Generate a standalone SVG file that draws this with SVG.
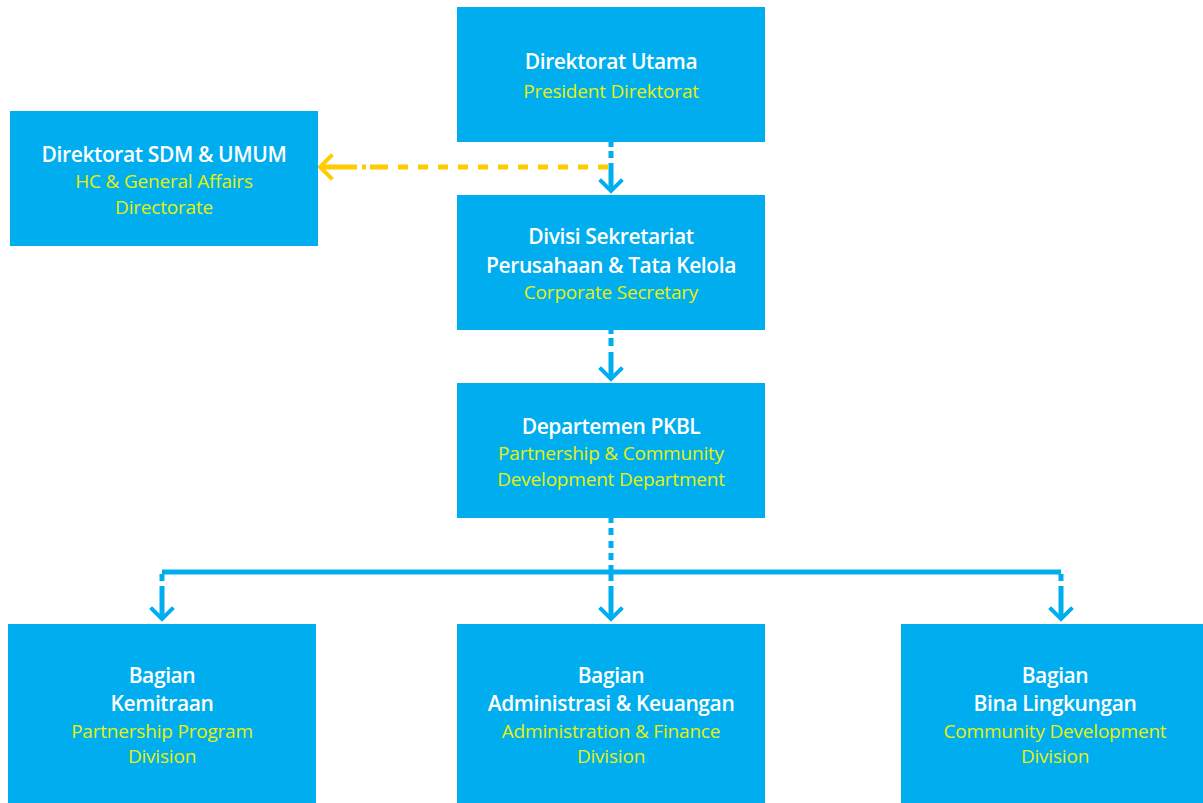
<svg xmlns="http://www.w3.org/2000/svg" width="1203" height="803" viewBox="0 0 1203 803">
  <defs>
    <style>
      .box { fill: #00AEEF; }
      .t { font-family: "Open Sans", "Noto Sans", sans-serif; text-anchor: middle; }
      .h { fill: #FFFFFF; font-size: 21px; font-weight: 600; letter-spacing: -0.4px; }
      .s { fill: #E6F00A; font-size: 19px; letter-spacing: -0.2px; }
      .blue { stroke: #00AEEF; stroke-width: 5; fill: none; }
      .gold { stroke: #FFCC00; stroke-width: 5; fill: none; }
      .head { stroke-width: 4; stroke-linecap: square; stroke-linejoin: miter; }
    </style>
  </defs>
  <rect width="1203" height="803" fill="#FFFFFF"/>

  <!-- connectors -->
  <g id="connectors">
    <!-- Direktorat Utama -> Sekretariat -->
    <path class="blue" d="M611 142 V147 M611 151 V158 M611 163 V190"/>
    <path class="blue head" d="M601 181 L611 191 L621 181"/>
    <!-- dotted line to SDM & Umum -->
    <path class="gold" d="M608 167 H398" stroke-dasharray="10 10"/>
    <path class="gold" d="M388 167 H370 M366 167 H362 M357 167 H322"/>
    <path class="gold head" d="M331 156 L320 167 L331 178"/>
    <!-- Sekretariat -> PKBL -->
    <path class="blue" d="M611 330 V334 M611 338 V346 M611 352 V379"/>
    <path class="blue head" d="M601 369 L611 379 L621 369"/>
    <!-- PKBL -> branch bus -->
    <path class="blue" d="M611 518 V523 M611 528 V535 M611 541 V548 M611 553 V560 M611 565 V570"/>
    <path class="blue" d="M162 572 H1061"/>
    <!-- drops to the three divisions -->
    <path class="blue" d="M162 574 V581 M162 586 V619"/>
    <path class="blue head" d="M152 609 L162 619 L172 609"/>
    <path class="blue" d="M611 574 V581 M611 586 V619"/>
    <path class="blue head" d="M601 609 L611 619 L621 609"/>
    <path class="blue" d="M1061 574 V581 M1061 586 V619"/>
    <path class="blue head" d="M1051 609 L1061 619 L1071 609"/>
  </g>

  <g id="direktorat-utama">
    <rect class="box" x="457" y="7" width="308" height="135"/>
    <text class="t h" x="611" y="69">Direktorat Utama</text>
    <text class="t s" x="611" y="98">President Direktorat</text>
  </g>

  <g id="direktorat-sdm">
    <rect class="box" x="10" y="111" width="308" height="135"/>
    <text class="t h" x="164" y="162">Direktorat SDM &amp; UMUM</text>
    <text class="t s" x="164" y="188">HC &amp; General Affairs</text>
    <text class="t s" x="164" y="214">Directorate</text>
  </g>

  <g id="sekretariat">
    <rect class="box" x="457" y="195" width="308" height="135"/>
    <text class="t h" x="611" y="244">Divisi Sekretariat</text>
    <text class="t h" x="611" y="273">Perusahaan &amp; Tata Kelola</text>
    <text class="t s" x="611" y="299">Corporate Secretary</text>
  </g>

  <g id="pkbl">
    <rect class="box" x="457" y="383" width="308" height="135"/>
    <text class="t h" x="611" y="434">Departemen PKBL</text>
    <text class="t s" x="611" y="460">Partnership &amp; Community</text>
    <text class="t s" x="611" y="486">Development Department</text>
  </g>

  <g id="kemitraan">
    <rect class="box" x="8" y="624" width="308" height="179"/>
    <text class="t h" x="162" y="683">Bagian</text>
    <text class="t h" x="162" y="711">Kemitraan</text>
    <text class="t s" x="162" y="738">Partnership Program</text>
    <text class="t s" x="162" y="763">Division</text>
  </g>

  <g id="administrasi">
    <rect class="box" x="457" y="624" width="308" height="179"/>
    <text class="t h" x="611" y="683">Bagian</text>
    <text class="t h" x="611" y="711">Administrasi &amp; Keuangan</text>
    <text class="t s" x="611" y="738">Administration &amp; Finance</text>
    <text class="t s" x="611" y="763">Division</text>
  </g>

  <g id="bina-lingkungan">
    <rect class="box" x="901" y="624" width="302" height="179"/>
    <text class="t h" x="1055" y="683">Bagian</text>
    <text class="t h" x="1055" y="711">Bina Lingkungan</text>
    <text class="t s" x="1055" y="738">Community Development</text>
    <text class="t s" x="1055" y="763">Division</text>
  </g>
</svg>
